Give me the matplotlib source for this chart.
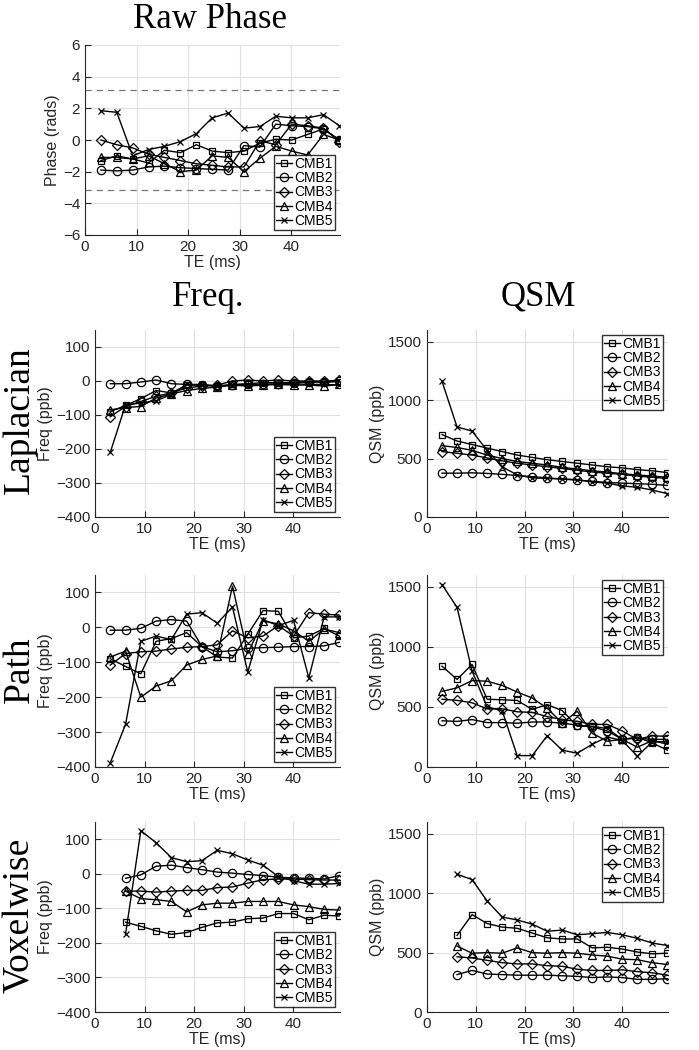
import matplotlib
matplotlib.use("Agg")
import matplotlib.pyplot as plt

TE = [3.08, 6.16, 9.24, 12.32, 15.4, 18.48, 21.56, 24.64, 27.72, 30.8,
      33.88, 36.96, 40.04, 43.12, 46.2, 49.28]
TE_vox = TE[1:]
names = ["CMB1", "CMB2", "CMB3", "CMB4", "CMB5"]

phase_raw = [
    [-1.3, -1.0, -1.2, -1.45, -0.65, -0.8, -0.3, -0.7, -0.8, -0.7, -0.2, 0.05, 0.0, 0.35, 0.7, 0.0],
    [-1.9, -1.95, -1.9, -1.7, -1.65, -1.75, -1.8, -1.85, -1.9, -0.35, -0.45, 1.0, 0.9, 0.85, 0.7, 0.0],
    [0.0, -0.3, -0.5, -0.9, -1.1, -1.3, -1.5, -1.6, -1.7, -1.7, -0.05, -0.3, 1.0, 0.9, 0.75, -0.1],
    [-1.1, -1.1, -1.2, -1.0, -1.5, -2.0, -1.9, -1.0, -1.1, -2.0, -1.15, -0.4, -0.7, -0.95, 0.35, 0.0],
    [1.85, 1.75, -1.0, -0.6, -0.4, -0.1, 0.4, 1.4, 1.7, 0.75, 0.85, 1.5, 1.4, 1.4, 1.6, 0.9],
]

freq_lap = [
    [-90, -72, -52, -28, -35, -12, -12, -15, -10, -8, -5, -5, -5, -2, -3, -2],
    [-8, -8, -3, 3, -8, -10, -12, -15, -12, -10, -10, -8, -5, -3, -3, 0],
    [-105, -75, -60, -45, -35, -20, -15, -12, 0, 3, 0, 3, 0, 0, 0, 2],
    [-85, -78, -75, -50, -38, -28, -22, -18, -12, -15, -12, -10, -12, -12, -15, -10],
    [-210, -70, -65, -58, -40, -10, -10, -15, -12, -12, -10, -10, -8, -10, -10, -12],
]
qsm_lap = [
    [705, 650, 620, 590, 560, 530, 510, 490, 475, 460, 445, 430, 420, 405, 395, 380],
    [375, 375, 378, 373, 365, 355, 345, 335, 325, 315, 305, 295, 290, 285, 280, 270],
    [560, 545, 530, 505, 480, 460, 445, 430, 415, 400, 385, 375, 365, 350, 340, 330],
    [610, 595, 570, 530, 500, 475, 460, 445, 425, 410, 395, 385, 370, 360, 350, 340],
    [1160, 770, 735, 570, 430, 360, 335, 330, 325, 320, 300, 290, 265, 255, 230, 200],
]
freq_path = [
    [-90, -112, -133, -40, -32, -15, -55, -85, -88, -20, 48, 46, -30, -25, -3, -25],
    [-8, -8, -3, 18, 22, 18, -55, -70, -67, -60, -58, -57, -55, -55, -53, -43],
    [-108, -75, -70, -68, -62, -57, -55, -50, -10, -30, -25, 5, -25, 42, 38, 35],
    [-85, -68, -200, -168, -153, -108, -92, -82, 118, -75, 18, 10, -10, -40, -5, -15],
    [-388, -278, -40, -25, -35, 38, 42, 12, 58, -128, 22, 5, 20, -145, 30, 30],
]
qsm_path = [
    [840, 730, 855, 565, 560, 555, 480, 520, 470, 340, 340, 320, 230, 250, 200, 140],
    [385, 380, 395, 370, 370, 365, 375, 375, 365, 350, 335, 300, 230, 240, 230, 230],
    [565, 555, 535, 485, 485, 460, 455, 420, 395, 380, 355, 355, 300, 230, 260, 255],
    [630, 660, 720, 715, 680, 625, 575, 490, 365, 465, 280, 215, 230, 165, 220, 190],
    [1520, 1330, 800, 500, 470, 95, 95, 260, 140, 115, 190, 250, 220, 90, 210, 210],
]
freq_vox = [
    [-140, -152, -165, -175, -170, -155, -142, -140, -130, -128, -115, -115, -133, -120, -122],
    [-13, -3, 22, 25, 18, 12, 5, 2, -2, -5, -10, -12, -13, -15, -5],
    [-50, -50, -53, -50, -48, -48, -40, -38, -27, -17, -15, -15, -17, -18, -18],
    [-50, -72, -75, -80, -110, -90, -85, -85, -80, -80, -80, -90, -95, -103, -105],
    [-175, 125, 90, 47, 35, 38, 68, 58, 40, 25, -8, -20, -30, -30, -28],
]
qsm_vox = [
    [645, 820, 745, 715, 705, 665, 625, 615, 615, 540, 545, 530, 505, 490, 495],
    [315, 350, 320, 315, 310, 310, 310, 305, 300, 290, 295, 290, 275, 275, 280],
    [465, 455, 435, 415, 405, 405, 390, 385, 360, 350, 350, 355, 340, 330, 310],
    [555, 495, 500, 495, 540, 500, 495, 500, 495, 480, 470, 445, 440, 415, 400],
    [1160, 1115, 935, 800, 775, 740, 680, 690, 650, 660, 670, 650, 620, 580, 560],
]

markers = ["s", "o", "D", "^", "x"]
msizes = [5, 6, 5, 6, 5]

plt.rcParams["font.family"] = ["Liberation Sans", "DejaVu Sans"]
W, H = 699, 1050
fig = plt.figure(figsize=(W / 100, H / 100), dpi=100)

TXT = "#262626"

def make_ax(l, r, t, b):
    return fig.add_axes([l / W, 1 - b / H, (r - l) / W, (b - t) / H])

def style(ax, ylim, yticks, ylabel, xlabel=True, legloc="lower right"):
    ax.set_xlim(0, 49.4)
    ax.set_ylim(*ylim)
    ax.set_xticks([0, 10, 20, 30, 40])
    ax.set_yticks(yticks)
    ax.grid(True, color="#e0e0e0", linewidth=0.8)
    ax.set_axisbelow(True)
    for s in ["top", "right"]:
        ax.spines[s].set_visible(False)
    for s in ["left", "bottom"]:
        ax.spines[s].set_color(TXT)
        ax.spines[s].set_linewidth(0.8)
    ax.tick_params(direction="in", length=4, colors=TXT, labelsize=11, width=0.8)
    ax.set_ylabel(ylabel, fontsize=11.5, color=TXT, labelpad=2)
    if xlabel:
        ax.set_xlabel("TE (ms)", fontsize=11.5, color=TXT, labelpad=1)
    leg = ax.legend(loc=legloc, fontsize=10, frameon=True, fancybox=False,
                    handlelength=1.2, handletextpad=0.15, borderpad=0.15,
                    labelspacing=0.02, borderaxespad=0.35)
    leg.get_frame().set_edgecolor("black")
    leg.get_frame().set_linewidth(1.0)

def plot_series(ax, x, data):
    for d, m, ms, n in zip(data, markers, msizes, names):
        ax.plot(x, d, color="black", linewidth=1.0, marker=m, markersize=ms,
                markerfacecolor="none", markeredgecolor="black",
                markeredgewidth=0.9, label=n)

# Raw phase
ax0 = make_ax(85, 340, 45, 235)
ax0.axhline(3.14159, color="#777777", linestyle=(0, (5, 4)), linewidth=0.9)
ax0.axhline(-3.14159, color="#777777", linestyle=(0, (5, 4)), linewidth=0.9)
plot_series(ax0, TE, phase_raw)
style(ax0, (-6, 6), [-6, -4, -2, 0, 2, 4, 6], "Phase (rads)")

rows = [(330, 517, freq_lap, qsm_lap, TE),
        (575, 767, freq_path, qsm_path, TE),
        (822, 1012, freq_vox, qsm_vox, TE_vox)]
for t, b, fd, qd, x in rows:
    axf = make_ax(95, 340, t, b)
    plot_series(axf, x, fd)
    style(axf, (-400, 150), [-400, -300, -200, -100, 0, 100], "Freq (ppb)")
    axq = make_ax(427, 668, t, b)
    plot_series(axq, x, qd)
    style(axq, (0, 1600), [0, 500, 1000, 1500], "QSM (ppb)", legloc="upper right")

serif = ["Liberation Serif", "DejaVu Serif"]
fig.text(210 / W, 1 - 28 / H, "Raw Phase", family=serif, fontsize=25, ha="center", va="baseline")
fig.text(208 / W, 1 - 306 / H, "Freq.", family=serif, fontsize=25, ha="center", va="baseline")
fig.text(538 / W, 1 - 306 / H, "QSM", family=serif, fontsize=25, ha="center", va="baseline")
fig.text(20 / W, 1 - 420 / H, "Laplacian", family=serif, fontsize=27, ha="center", va="center", rotation=90)
fig.text(20 / W, 1 - 670 / H, "Path", family=serif, fontsize=27, ha="center", va="center", rotation=90)
fig.text(20 / W, 1 - 915 / H, "Voxelwise", family=serif, fontsize=27, ha="center", va="center", rotation=90)

fig.savefig("out.png", dpi=100)
